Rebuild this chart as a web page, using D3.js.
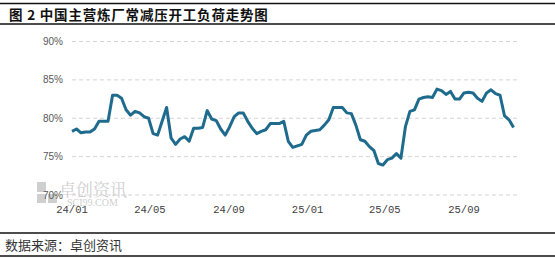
<!DOCTYPE html>
<html>
<head>
<meta charset="utf-8">
<script src="https://cdn.jsdelivr.net/npm/d3@7"></script>
<style>
  html, body { margin: 0; padding: 0; background: #fff; }
  svg { display: block; }
</style>
</head>
<body>
<svg id="chart" width="555" height="259"></svg>
<script>
// weekly load rate (%), first week 2024-01-01
const startDate = new Date(2024, 0, 1);
const loadRate = [
  78.3, 78.6, 78.1, 78.2, 78.2, 78.6, 79.6, 79.6, 79.6, 83.0,
  83.0, 82.6, 81.1, 80.4, 80.9, 80.7, 80.2, 80.0, 78.0, 77.8,
  79.6, 81.4, 77.4, 76.6, 77.3, 77.6, 77.0, 78.7, 78.7, 78.8,
  81.0, 79.9, 79.7, 78.6, 77.8, 78.9, 80.2, 80.7, 80.7, 79.6,
  78.7, 78.0, 78.3, 78.5, 79.3, 79.3, 79.3, 79.6, 77.0, 76.2,
  76.4, 76.6, 77.8, 78.3, 78.4, 78.5, 79.1, 79.8, 81.4, 81.4,
  81.4, 80.7, 80.6, 79.1, 77.2, 77.0, 76.3, 75.8, 74.1, 73.9,
  74.6, 74.8, 75.4, 74.8, 78.9, 80.9, 81.1, 82.5, 82.7, 82.8,
  82.7, 83.8, 83.6, 83.1, 83.5, 82.5, 82.5, 83.3, 83.4, 83.3,
  82.6, 82.2, 83.3, 83.7, 83.2, 83.0, 80.3, 79.8, 78.8
];
const yTicks = [70, 75, 80, 85, 90];
const xTickDates = [
  new Date(2024, 0, 1), new Date(2024, 4, 1), new Date(2024, 8, 1),
  new Date(2025, 0, 1), new Date(2025, 4, 1), new Date(2025, 8, 1)
];

const title = "图 2  中国主营炼厂常减压开工负荷走势图";
const source = "数据来源：卓创资讯";

const data = loadRate.map((v, i) => ({ date: d3.timeDay.offset(startDate, i * 7), value: v }));

const svg = d3.select("#chart");
const width = 555;
const plotLeft = 72, plotRight = 517;

const x = d3.scaleTime()
  .domain([new Date(2024, 0, 1), new Date(2025, 8, 1)])
  .range([72, 464]);

const y = d3.scaleLinear()
  .domain([70, 90])
  .range([195, 41.5]);

// header
svg.append("line")
  .attr("x1", 0).attr("x2", width).attr("y1", 3.5).attr("y2", 3.5)
  .attr("stroke", "#111").attr("stroke-width", 1.5);
svg.append("line")
  .attr("x1", 0).attr("x2", width).attr("y1", 24).attr("y2", 24)
  .attr("stroke", "#111").attr("stroke-width", 1.5);
svg.append("text")
  .attr("x", 9).attr("y", 19.5)
  .attr("font-family", "'Noto Sans CJK SC', sans-serif")
  .attr("font-size", "13.5px")
  .attr("font-weight", 700)
  .attr("letter-spacing", "0.8px")
  .attr("fill", "#111")
  .text(title);

// watermark
const wm = svg.append("g").attr("fill", "#cfcfcf");
wm.append("rect").attr("x", 37).attr("y", 182).attr("width", 9).attr("height", 10);
wm.append("rect").attr("x", 37).attr("y", 194).attr("width", 9).attr("height", 9);
wm.append("rect").attr("x", 48).attr("y", 194).attr("width", 9).attr("height", 9);
wm.append("text")
  .attr("x", 59).attr("y", 196)
  .attr("font-family", "'Noto Serif CJK SC', 'Noto Sans CJK SC', serif")
  .attr("font-size", "17px")
  .text("卓创资讯");
wm.append("text")
  .attr("x", 67).attr("y", 205.5)
  .attr("font-family", "'Liberation Serif', serif")
  .attr("font-size", "10px")
  .text("SCI99.COM");

// grid + y labels
const g = svg.append("g");
g.selectAll("line.grid")
  .data(yTicks)
  .enter().append("line")
  .attr("class", "grid")
  .attr("x1", plotLeft).attr("x2", plotRight)
  .attr("y1", d => y(d)).attr("y2", d => y(d))
  .attr("stroke", "#d4d4d4")
  .attr("stroke-width", 1)
  .attr("stroke-dasharray", "4,3");

g.selectAll("text.ylab")
  .data(yTicks)
  .enter().append("text")
  .attr("class", "ylab")
  .attr("x", 63)
  .attr("y", d => y(d) + 3.5)
  .attr("text-anchor", "end")
  .attr("font-family", "'Liberation Sans', Arial, sans-serif")
  .attr("font-size", "10px")
  .attr("fill", "#595959")
  .text(d => d + "%");

// x labels
g.selectAll("text.xlab")
  .data(xTickDates)
  .enter().append("text")
  .attr("class", "xlab")
  .attr("x", d => x(d))
  .attr("y", 213)
  .attr("text-anchor", "middle")
  .attr("font-family", "'Liberation Mono', monospace")
  .attr("font-size", "10.5px")
  .attr("fill", "#404040")
  .text(d => d3.timeFormat("%y/%m")(d));

// line
const line = d3.line()
  .x(d => x(d.date))
  .y(d => y(d.value));

svg.append("path")
  .datum(data)
  .attr("d", line)
  .attr("fill", "none")
  .attr("stroke", "#1f6b8e")
  .attr("stroke-width", 3)
  .attr("stroke-linejoin", "round");

// footer
svg.append("line")
  .attr("x1", 0).attr("x2", width).attr("y1", 233).attr("y2", 233)
  .attr("stroke", "#111").attr("stroke-width", 1.5);
svg.append("line")
  .attr("x1", 0).attr("x2", width).attr("y1", 256).attr("y2", 256)
  .attr("stroke", "#111").attr("stroke-width", 1.5);
svg.append("text")
  .attr("x", 5).attr("y", 250)
  .attr("font-family", "'Noto Sans CJK SC', sans-serif")
  .attr("font-size", "13px")
  .attr("fill", "#333")
  .text(source);
</script>
</body>
</html>
